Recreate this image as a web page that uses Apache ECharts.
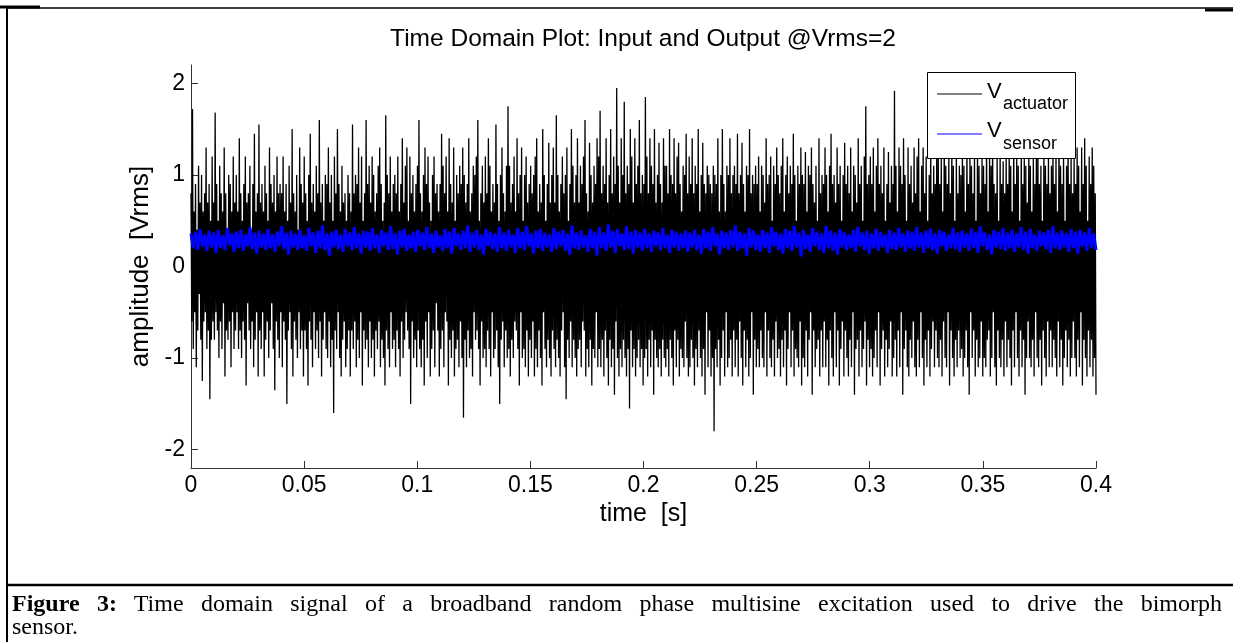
<!DOCTYPE html>
<html>
<head>
<meta charset="utf-8">
<script src="https://cdn.jsdelivr.net/npm/echarts@6/dist/echarts.min.js"></script>
<style>
  html, body { margin: 0; padding: 0; background: #fff; }
  #wrap { position: relative; width: 1233px; height: 642px; overflow: hidden; }
  #chart { position: absolute; left: 0; top: 0; width: 1233px; height: 642px; }
  .cap { position: absolute; left: 12px; width: 1210px;
    font-family: "Liberation Serif", "Times New Roman", serif; font-size: 24px; line-height: 23px;
    color: #000; white-space: nowrap; }
  #cap1 { top: 592px; text-align: justify; text-align-last: justify; white-space: normal; }
  #cap2 { top: 615px; text-align: left; }
</style>
</head>
<body>
<div id="wrap">
  <div id="chart"></div>
  <div class="cap" id="cap1"><b>Figure 3:</b> Time domain signal of a broadband random phase multisine excitation used to drive the bimorph</div>
  <div class="cap" id="cap2">sensor.</div>
</div>
<script>
// ---- data ----
const timeRange = [0, 0.4];
const xTicks = [0, 0.05, 0.1, 0.15, 0.2, 0.25, 0.3, 0.35, 0.4];
const yTicks = [-2, -1, 0, 1, 2];
const titleText = 'Time Domain Plot: Input and Output @Vrms=2';
const xName = 'time  [s]';
const yName = 'amplitude  [Vrms]';

const actuator = [
  0.8,-0.6,1.72,-0.9,0.6,-0.5,0.9,-1.1,0.4,-0.7,1.1,-0.3,0.7,-0.8,1.0,-1.25,0.6,-0.6,0.8,-0.5,1.3,-0.9,0.7,-0.7,0.9,-1.45,0.5,-0.8,1.2,-0.6,
  0.7,-0.8,1.68,-0.5,0.9,-0.7,0.5,-1.0,1.1,-0.6,0.8,-0.9,0.6,-0.4,1.3,-1.2,0.8,-0.7,0.4,-0.8,1.0,-0.6,0.9,-1.1,0.6,-0.5,1.2,-0.9,0.7,-0.7,
  1.0,-0.5,0.6,-0.9,1.4,-0.7,0.8,-1.0,0.5,-0.6,0.9,-0.8,1.2,-1.3,0.7,-0.4,0.8,-0.7,1.1,-0.9,0.4,-0.6,0.9,-1.1,1.45,-0.8,0.6,-0.5,0.8,-1.2,
  1.55,-0.7,0.7,-0.9,0.9,-0.5,0.6,-1.2,1.1,-0.8,0.8,-0.6,0.5,-1.0,1.3,-0.7,0.9,-0.4,0.7,-0.9,1.0,-1.35,0.6,-0.6,1.2,-0.8,0.8,-1.0,0.9,-0.5,
  0.8,-1.1,1.2,-0.6,0.6,-0.8,0.9,-1.5,0.5,-0.7,1.1,-0.5,0.7,-0.9,1.5,-1.2,0.8,-0.6,0.6,-0.8,1.0,-1.0,0.4,-0.5,1.3,-0.9,0.9,-0.7,0.7,-1.2,
  1.2,-0.7,0.8,-0.9,0.5,-1.3,1.0,-0.6,1.45,-0.8,0.7,-1.1,0.9,-0.5,0.6,-0.9,1.1,-0.7,0.8,-1.0,1.6,-0.6,0.7,-1.2,0.9,-0.8,0.5,-0.5,1.0,-0.9,
  0.9,-1.0,1.3,-0.6,0.7,-1.1,1.0,-0.8,0.5,-1.6,1.2,-0.7,0.8,-0.9,1.5,-0.5,0.9,-1.0,0.6,-1.2,1.1,-0.8,0.7,-0.6,0.8,-1.1,0.5,-0.9,1.0,-0.7,
  0.8,-1.2,0.6,-0.7,1.55,-0.9,0.8,-0.6,1.0,-1.1,0.9,-0.8,1.3,-1.0,0.7,-0.5,1.2,-1.3,0.5,-0.7,0.8,-0.9,1.6,-0.8,0.9,-1.1,1.1,-0.6,0.7,-1.0,
  1.2,-0.8,1.0,-1.2,0.6,-0.7,0.8,-0.9,1.1,-0.6,1.3,-1.1,0.9,-0.8,0.5,-1.0,0.7,-1.3,1.65,-0.7,1.0,-0.9,0.8,-1.1,1.2,-0.5,0.6,-0.9,0.9,-0.8,
  1.0,-1.1,0.8,-0.7,1.2,-0.9,0.6,-1.2,0.9,-0.6,1.4,-1.0,0.7,-0.8,1.1,-0.5,1.3,-0.7,0.5,-0.9,1.2,-1.5,0.8,-0.6,1.0,-1.0,0.6,-0.8,0.9,-1.1,
  1.1,-0.7,1.6,-0.9,0.8,-1.1,0.6,-0.8,1.0,-1.3,1.3,-0.6,0.9,-1.0,1.2,-0.5,0.7,-1.2,0.5,-0.9,1.0,-0.7,1.2,-1.1,0.8,-0.4,0.9,-0.7,0.6,-1.2,
  0.9,-0.9,1.45,-0.7,1.1,-1.1,0.8,-0.5,1.2,-0.6,0.6,-1.3,1.4,-0.8,0.9,-1.0,0.7,-0.7,1.3,-1.2,0.5,-0.9,1.0,-0.8,0.8,-1.1,1.1,-0.6,0.9,-1.0,
  1.3,-1.65,1.0,-0.8,0.7,-1.1,0.9,-0.7,1.4,-1.0,0.6,-0.9,0.8,-1.2,1.1,-0.5,1.0,-0.8,1.2,-0.7,1.6,-0.9,0.5,-1.3,0.8,-0.6,1.1,-1.0,0.7,-0.9,
  1.2,-1.1,0.8,-0.7,1.4,-0.9,1.1,-1.2,0.6,-0.5,0.9,-1.0,0.7,-0.9,1.55,-0.7,0.9,-1.1,0.5,-1.5,1.0,-0.8,1.3,-0.6,0.8,-1.1,0.6,-0.7,1.1,-1.0,
  1.75,-0.9,1.1,-1.2,0.7,-0.8,0.9,-1.0,1.2,-0.6,0.6,-0.7,1.4,-0.9,0.8,-1.3,1.0,-0.5,1.3,-1.0,0.5,-0.9,1.0,-1.1,1.2,-0.7,0.7,-1.2,0.9,-0.8,
  1.1,-1.0,0.8,-0.6,1.0,-1.2,1.2,-0.9,1.4,-1.1,0.6,-0.7,0.9,-1.0,0.7,-1.3,1.5,-0.5,1.0,-0.9,0.5,-1.1,0.9,-0.8,1.35,-1.0,0.7,-1.2,1.0,-0.7,
  1.3,-0.9,0.7,-1.1,1.65,-0.8,1.0,-1.0,0.6,-1.2,0.9,-0.7,1.2,-0.5,0.8,-1.1,1.0,-1.45,1.3,-0.8,0.5,-1.0,0.9,-0.6,1.5,-1.1,1.1,-0.8,0.7,-1.0,
  1.0,-1.2,1.4,-0.9,0.7,-0.8,1.1,-1.1,0.9,-0.6,1.2,-0.7,1.6,-1.2,0.8,-0.9,0.6,-1.1,1.35,-0.8,1.0,-1.3,0.7,-0.9,1.1,-1.0,0.9,-0.5,1.4,-1.1,
  1.2,-0.9,1.7,-1.1,0.8,-0.8,1.1,-1.2,0.9,-0.7,1.4,-1.0,0.7,-1.3,1.0,-0.8,1.5,-1.1,0.8,-0.9,1.2,-1.4,0.9,-0.6,1.95,-1.0,1.1,-1.2,0.7,-0.9,
  1.4,-1.1,1.0,-0.8,1.8,-1.0,0.8,-1.2,1.1,-0.9,0.9,-1.55,1.5,-0.7,1.2,-1.1,0.7,-0.9,1.4,-1.2,0.9,-1.0,1.1,-0.8,1.6,-1.1,0.8,-0.9,1.0,-1.3,
  0.9,-1.0,1.85,-0.9,1.2,-1.2,0.8,-0.8,1.4,-1.1,1.1,-0.7,0.9,-1.4,1.5,-0.8,0.7,-1.0,1.0,-1.1,1.35,-0.9,0.9,-1.2,0.7,-0.8,1.4,-1.0,1.1,-1.1,
  1.1,-0.9,0.8,-1.2,1.5,-0.8,1.0,-1.0,0.9,-1.3,1.4,-0.7,0.8,-1.1,1.2,-0.8,1.35,-1.2,0.9,-0.9,0.6,-1.0,1.1,-1.1,1.0,-0.6,1.45,-1.0,0.8,-1.2,
  1.2,-1.1,0.9,-0.8,1.4,-1.0,0.8,-1.3,1.1,-0.9,0.9,-1.1,1.5,-0.7,0.6,-1.0,1.0,-1.2,1.35,-0.9,0.9,-1.4,0.8,-0.5,1.1,-1.1,1.0,-0.7,0.9,-1.2,
  0.8,-1.0,1.1,-1.8,1.0,-0.9,0.9,-1.1,1.4,-0.8,0.6,-1.3,1.0,-1.0,1.5,-0.7,0.9,-1.2,0.6,-0.5,1.1,-1.1,1.0,-1.0,1.4,-0.8,0.8,-1.2,1.0,-0.7,
  1.1,-1.1,0.9,-0.8,1.45,-1.2,0.8,-0.6,1.0,-1.0,1.35,-1.3,0.9,-0.7,0.6,-1.1,1.1,-0.8,1.0,-1.2,1.5,-1.0,0.8,-0.5,1.0,-1.4,0.9,-0.8,1.1,-1.1,
  0.9,-0.9,1.2,-1.1,0.6,-0.7,1.1,-1.0,1.0,-1.1,0.7,-0.5,1.4,-1.2,0.9,-0.7,1.0,-1.0,1.2,-1.1,0.5,-0.8,1.1,-1.2,0.9,-0.6,1.3,-1.0,1.0,-0.9,
  0.8,-1.2,1.1,-0.8,1.4,-1.1,0.6,-0.7,1.0,-1.3,1.2,-0.9,0.8,-0.5,1.1,-1.1,0.9,-0.7,1.45,-1.2,1.0,-0.9,0.5,-1.0,1.1,-1.1,0.9,-0.6,1.3,-1.3,
  1.0,-1.0,0.9,-1.1,1.25,-0.7,0.6,-1.2,1.1,-0.8,1.0,-0.5,1.3,-1.4,0.9,-0.7,0.7,-1.1,1.1,-0.9,0.5,-0.8,1.4,-1.2,0.8,-0.7,1.0,-1.1,0.9,-0.6,
  1.3,-1.1,1.0,-0.8,0.6,-1.3,1.1,-0.7,1.45,-1.0,0.9,-1.2,1.0,-0.5,0.7,-1.1,1.3,-0.7,0.9,-1.3,1.1,-0.9,0.5,-0.6,1.0,-1.2,1.35,-0.7,0.9,-1.0,
  1.1,-1.2,0.8,-0.8,1.3,-1.1,0.6,-0.5,1.1,-1.4,1.0,-0.9,0.7,-0.8,1.4,-1.2,0.9,-0.7,1.1,-1.1,0.5,-0.9,1.2,-0.6,1.75,-1.3,0.9,-0.8,1.0,-1.1,
  1.2,-0.9,0.9,-1.2,1.3,-1.0,0.6,-0.7,1.1,-1.1,1.4,-0.5,0.9,-1.3,1.1,-0.9,0.8,-0.7,1.3,-1.2,0.5,-0.8,0.9,-1.1,1.25,-0.9,0.7,-0.6,1.1,-1.2,
  0.9,-1.0,1.92,-0.8,1.1,-1.2,0.6,-0.7,1.3,-1.1,1.1,-0.5,0.9,-1.4,1.4,-0.9,1.0,-0.7,0.5,-1.1,1.3,-1.2,0.9,-0.8,1.1,-1.0,0.7,-0.6,1.3,-1.1,
  0.8,-1.2,1.2,-0.8,1.4,-1.1,0.6,-0.5,1.1,-1.0,1.3,-1.3,0.8,-0.8,1.2,-1.1,0.5,-0.7,1.0,-1.2,1.4,-0.9,0.8,-0.6,1.1,-1.1,0.9,-0.7,1.25,-1.0,
  1.3,-1.1,0.9,-0.8,1.2,-1.2,0.6,-0.6,1.5,-1.0,1.1,-1.1,0.9,-0.5,1.2,-1.3,0.8,-0.7,1.3,-1.0,1.1,-1.2,0.5,-0.8,1.25,-1.1,0.8,-0.7,1.1,-1.0,
  1.0,-0.9,1.3,-1.2,1.1,-1.0,0.6,-0.7,1.4,-1.1,0.9,-1.4,1.2,-0.5,1.1,-1.0,0.8,-0.7,1.25,-1.2,0.5,-0.8,1.3,-1.1,1.1,-1.0,0.8,-0.6,1.2,-1.2,
  1.1,-1.0,0.9,-1.1,1.4,-0.8,0.6,-0.7,1.2,-1.2,1.1,-1.0,1.45,-0.5,0.9,-1.1,0.8,-1.3,1.2,-0.7,0.5,-1.0,1.3,-1.1,0.9,-0.8,1.15,-1.2,0.8,-0.6,
  1.2,-1.1,0.9,-0.8,1.3,-1.0,1.1,-1.3,0.6,-0.7,1.5,-1.1,0.9,-0.5,1.2,-1.0,1.1,-1.2,0.5,-0.7,1.3,-1.1,0.9,-0.8,1.2,-1.4,1.1,-1.0,0.7,-0.6,
  1.3,-1.0,1.1,-1.1,0.6,-0.8,1.25,-1.2,0.9,-0.5,1.2,-1.0,1.4,-1.1,0.9,-0.8,1.1,-1.3,0.5,-0.7,1.3,-1.0,1.1,-1.2,0.9,-0.6,1.2,-1.1,0.8,-0.7,
  1.1,-1.1,1.3,-0.8,0.9,-1.0,1.2,-1.2,0.6,-0.6,1.45,-1.1,1.1,-0.8,0.9,-1.3,1.25,-1.0,0.5,-0.7,1.1,-1.1,1.4,-0.8,0.9,-1.2,1.2,-1.0,0.8,-0.6,
  1.2,-1.0,0.9,-1.2,1.3,-0.8,1.1,-1.1,0.6,-0.5,1.3,-1.3,0.9,-0.8,1.4,-1.0,1.1,-1.2,0.5,-0.7,1.2,-1.1,0.9,-0.8,1.3,-1.2,1.1,-1.0,0.8,-1.4
];

const sensor = [
  0.36,0.2,0.38,0.18,0.41,0.22,0.35,0.17,0.39,0.21,0.37,0.15,0.4,0.2,0.34,0.18,0.42,0.23,0.36,0.16,
  0.38,0.2,0.4,0.17,0.35,0.22,0.43,0.19,0.37,0.14,0.39,0.21,0.36,0.18,0.41,0.2,0.35,0.16,0.38,0.22,
  0.44,0.19,0.37,0.13,0.39,0.21,0.36,0.18,0.4,0.2,0.34,0.17,0.42,0.22,0.37,0.15,0.39,0.2,0.45,0.18,
  0.36,0.12,0.38,0.21,0.4,0.19,0.35,0.16,0.41,0.22,0.37,0.18,0.43,0.2,0.36,0.14,0.39,0.21,0.38,0.17,
  0.42,0.2,0.35,0.15,0.4,0.22,0.37,0.18,0.44,0.19,0.36,0.13,0.39,0.21,0.41,0.17,0.35,0.2,0.38,0.16,
  0.4,0.22,0.37,0.18,0.43,0.2,0.36,0.15,0.39,0.21,0.34,0.17,0.41,0.2,0.38,0.14,0.42,0.22,0.36,0.18,
  0.39,0.2,0.45,0.16,0.37,0.21,0.4,0.18,0.35,0.13,0.41,0.22,0.38,0.19,0.36,0.16,0.43,0.2,0.37,0.17,
  0.4,0.21,0.35,0.15,0.42,0.2,0.38,0.18,0.44,0.22,0.36,0.14,0.39,0.2,0.41,0.17,0.37,0.21,0.35,0.16,
  0.42,0.19,0.38,0.22,0.4,0.17,0.36,0.13,0.45,0.2,0.37,0.18,0.39,0.21,0.34,0.16,0.41,0.2,0.38,0.12,
  0.43,0.2,0.37,0.17,0.46,0.21,0.39,0.15,0.41,0.22,0.36,0.18,0.44,0.19,0.38,0.14,0.4,0.21,0.37,0.17,
  0.41,0.2,0.36,0.16,0.39,0.22,0.37,0.18,0.42,0.2,0.35,0.15,0.4,0.21,0.38,0.17,0.36,0.2,0.39,0.16,
  0.37,0.21,0.4,0.18,0.35,0.14,0.41,0.2,0.38,0.17,0.43,0.22,0.36,0.13,0.39,0.2,0.37,0.18,0.4,0.21,
  0.45,0.17,0.38,0.2,0.36,0.12,0.42,0.21,0.39,0.18,0.35,0.16,0.4,0.2,0.37,0.15,0.43,0.22,0.38,0.18,
  0.36,0.14,0.41,0.2,0.39,0.17,0.44,0.21,0.37,0.11,0.4,0.19,0.35,0.16,0.42,0.22,0.38,0.18,0.36,0.15,
  0.44,0.2,0.39,0.17,0.37,0.13,0.41,0.21,0.38,0.18,0.35,0.2,0.4,0.16,0.43,0.22,0.37,0.18,0.39,0.14,
  0.36,0.2,0.41,0.17,0.38,0.21,0.35,0.15,0.4,0.19,0.37,0.18,0.42,0.21,0.36,0.16,0.39,0.2,0.38,0.17,
  0.43,0.21,0.37,0.15,0.39,0.2,0.41,0.18,0.36,0.14,0.4,0.22,0.38,0.17,0.35,0.2,0.42,0.19,0.37,0.16,
  0.39,0.21,0.36,0.17,0.41,0.2,0.38,0.15,0.44,0.22,0.37,0.18,0.35,0.13,0.4,0.21,0.38,0.19,0.42,0.17,
  0.37,0.2,0.4,0.16,0.36,0.21,0.43,0.18,0.38,0.14,0.41,0.2,0.35,0.17,0.39,0.22,0.37,0.19,0.4,0.15,
  0.44,0.2,0.37,0.18,0.39,0.21,0.36,0.16,0.41,0.2,0.38,0.14,0.4,0.22,0.37,0.17,0.42,0.2,0.36,0.18
];

// sample times: uniform sampling grid over the recorded window
function withTime(values) {
  const n = values.length;
  return values.map((v, i) => [timeRange[0] + (timeRange[1] - timeRange[0]) * i / (n - 1), v]);
}

const FONT = '"Liberation Sans", Arial, sans-serif';
const chart = echarts.init(document.getElementById('chart'), null, { renderer: 'canvas' });

const option = {
  animation: false,
  backgroundColor: '#fff',
  grid: { left: 191, right: 137, top: 65, bottom: 174, containLabel: false },
  xAxis: {
    type: 'value', min: timeRange[0], max: timeRange[1],
    name: xName, nameLocation: 'middle', nameGap: 24,
    nameTextStyle: { fontFamily: FONT, fontSize: 25, color: '#000' },
    axisLine: { show: true, onZero: false, lineStyle: { color: '#333', width: 1 } },
    axisTick: { show: true, inside: true, length: 7, customValues: xTicks, lineStyle: { color: '#333' } },
    axisLabel: { customValues: xTicks, fontFamily: FONT, fontSize: 23, color: '#000', margin: 6,
      formatter: v => String(+Number(v).toFixed(2)) },
    splitLine: { show: false }
  },
  yAxis: {
    type: 'value', min: -2.2, max: 2.2,
    name: yName, nameLocation: 'middle', nameGap: 20, nameRotate: 90,
    nameTextStyle: { fontFamily: FONT, fontSize: 26, color: '#000' },
    axisLine: { show: true, onZero: false, lineStyle: { color: '#333', width: 1 } },
    axisTick: { show: true, inside: true, length: 7, customValues: yTicks, lineStyle: { color: '#333' } },
    axisLabel: { customValues: yTicks, fontFamily: FONT, fontSize: 23, color: '#000', margin: 6,
      formatter: v => String(v) },
    splitLine: { show: false }
  },
  series: [
    { name: 'V actuator', type: 'line', data: withTime(actuator), showSymbol: false, symbol: 'none',
      lineStyle: { color: '#000', width: 1.3 }, silent: true, z: 2 },
    { name: 'V sensor', type: 'line', data: withTime(sensor), showSymbol: false, symbol: 'none',
      lineStyle: { color: '#0000ff', width: 3 }, silent: true, z: 3 }
  ],
  graphic: [
    { type: 'text', x: 643, y: 39, z: 10, style: { text: titleText, font: '24.5px ' + FONT, fill: '#000',
      align: 'center', verticalAlign: 'middle' } },
    { type: 'rect', z: 20, shape: { x: 927.5, y: 72.5, width: 148, height: 86 },
      style: { fill: '#fff', stroke: '#000', lineWidth: 1 } },
    { type: 'line', z: 21, shape: { x1: 937, y1: 94, x2: 982, y2: 94 }, style: { stroke: '#000', lineWidth: 1 } },
    { type: 'line', z: 21, shape: { x1: 937, y1: 134, x2: 982, y2: 134 }, style: { stroke: '#0000ff', lineWidth: 1 } },
    { type: 'text', z: 21, x: 987, y: 92, style: { text: 'V', font: '22px ' + FONT, fill: '#000', verticalAlign: 'middle' } },
    { type: 'text', z: 21, x: 1003, y: 104, style: { text: 'actuator', font: '18px ' + FONT, fill: '#000', verticalAlign: 'middle' } },
    { type: 'text', z: 21, x: 987, y: 131, style: { text: 'V', font: '22px ' + FONT, fill: '#000', verticalAlign: 'middle' } },
    { type: 'text', z: 21, x: 1003, y: 144, style: { text: 'sensor', font: '18px ' + FONT, fill: '#000', verticalAlign: 'middle' } },
    { type: 'line', z: 30, shape: { x1: 7, y1: 8, x2: 1233, y2: 8 }, style: { stroke: '#000', lineWidth: 1.5 } },
    { type: 'line', z: 30, shape: { x1: 0, y1: 7, x2: 40, y2: 7 }, style: { stroke: '#000', lineWidth: 3 } },
    { type: 'line', z: 30, shape: { x1: 1205, y1: 10, x2: 1233, y2: 10 }, style: { stroke: '#000', lineWidth: 3 } },
    { type: 'line', z: 30, shape: { x1: 7, y1: 7, x2: 7, y2: 642 }, style: { stroke: '#000', lineWidth: 2 } },
    { type: 'line', z: 30, shape: { x1: 7, y1: 585, x2: 1233, y2: 585 }, style: { stroke: '#000', lineWidth: 2.5 } }
  ]
};
chart.setOption(option);
</script>
</body>
</html>
